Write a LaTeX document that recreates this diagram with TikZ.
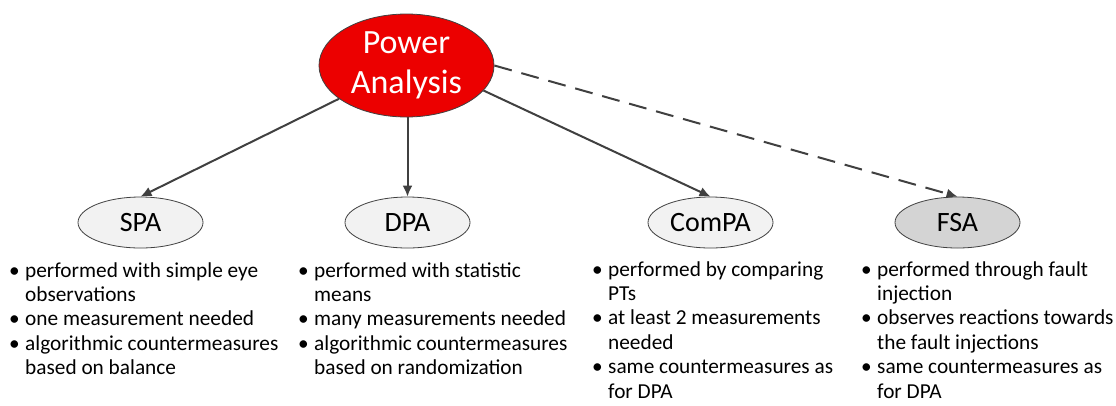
\documentclass[tikz,border=0pt]{standalone}
\usepackage{fontspec}
\setmainfont{Carlito}
\usetikzlibrary{shapes.geometric,arrows.meta}
\definecolor{linegray}{HTML}{404040}
\definecolor{pared}{HTML}{EC0000}
\definecolor{lightfill}{HTML}{F2F2F2}
\definecolor{darkfill}{HTML}{D4D4D4}
\tikzset{
  topic/.style={ellipse, draw=linegray, line width=0.8pt, minimum width=125pt, minimum height=51pt, inner sep=0pt,
    font=\fontsize{28}{32}\selectfont, text=black},
  conn/.style={draw=linegray, line width=2pt, -{Latex[length=11pt,width=10pt]}},
  listbox/.style={anchor=base west, inner sep=0pt, font=\fontsize{21.3}{24.4}\selectfont, text=black},
}
\newcommand{\bul}{\makebox[17pt][l]{\hspace{1pt}•}}
\newcommand{\trimlist}[1]{\raisebox{0pt}[\height][\dimexpr\depth-7pt\relax]{#1}}
\begin{document}
\begin{tikzpicture}[x=1pt,y=-1pt]
\useasboundingbox (0,0) rectangle (1116,405);
\node[ellipse, draw=linegray, line width=0.8pt, fill=pared, minimum width=175pt, minimum height=103pt, inner sep=0pt,
  text=white, align=center, font=\fontsize{34}{40}\selectfont] (pa) at (406.5,65.5) {Power\\Analysis};
\node[topic, fill=lightfill] (spa) at (140.5,222.5) {SPA};
\node[topic, fill=lightfill] (dpa) at (407.5,222.5) {DPA};
\node[topic, fill=lightfill] (compa) at (710.5,222.5) {ComPA};
\node[topic, fill=darkfill] (fsa) at (957.5,222.5) {FSA};
\draw[conn] (pa) -- (spa.north);
\draw[conn] (pa.south -| dpa.north) -- (dpa.north);
\draw[conn] (pa.-18) -- (compa.north);
\draw[conn, dash pattern=on 18pt off 10pt] (pa.east) -- (fsa.north);
\node[listbox] (l1) at (8,277) {\trimlist{\begin{tabular}[t]{@{}l@{}l@{}}
\bul & performed with simple eye\\
 & observations\\
\bul & one measurement needed\\
\bul & algorithmic countermeasures\\
 & based on balance
\end{tabular}}};
\node[listbox] (l2) at (297,277) {\trimlist{\begin{tabular}[t]{@{}l@{}l@{}}
\bul & performed with statistic\\
 & means\\
\bul & many measurements needed\\
\bul & algorithmic countermeasures\\
 & based on randomization
\end{tabular}}};
\node[listbox] (l3) at (591,276) {\trimlist{\begin{tabular}[t]{@{}l@{}l@{}}
\bul & performed by comparing\\
 & PTs\\
\bul & at least 2 measurements\\
 & needed\\
\bul & same countermeasures as\\
 & for DPA
\end{tabular}}};
\node[listbox] (l4) at (860,276) {\trimlist{\begin{tabular}[t]{@{}l@{}l@{}}
\bul & performed through fault\\
 & injection\\
\bul & observes reactions towards\\
 & the fault injections\\
\bul & same countermeasures as\\
 & for DPA
\end{tabular}}};
\end{tikzpicture}
\end{document}
